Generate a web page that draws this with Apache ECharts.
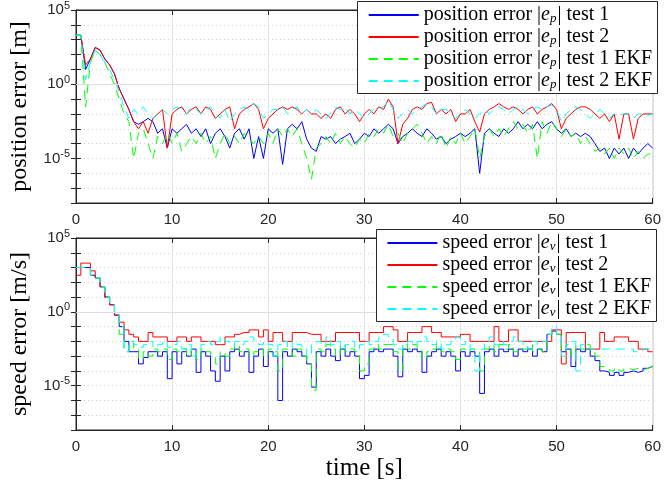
<!DOCTYPE html>
<html><head><meta charset="utf-8">
<script src="https://cdn.jsdelivr.net/npm/echarts@6/dist/echarts.min.js"></script>
<style>html,body{margin:0;padding:0;background:#fff}#c{width:664px;height:485px}</style>
</head><body><div id="c"></div>
<script>
// sample times [s]
const timeS = [0,0.5,1,1.5,2,2.5,3,3.5,4,4.5,5,5.5,6,6.5,7,7.5,8,8.5,9,9.5,
10,10.5,11,11.5,12,12.5,13,13.5,14,14.5,15,15.5,16,16.5,17,17.5,18,18.5,19,19.5,
20,20.5,21,21.5,22,22.5,23,23.5,24,24.5,25,25.5,26,26.5,27,27.5,28,28.5,29,29.5,
30,30.5,31,31.5,32,32.5,33,33.5,34,34.5,35,35.5,36,36.5,37,37.5,38,38.5,39,39.5,
40,40.5,41,41.5,42,42.5,43,43.5,44,44.5,45,45.5,46,46.5,47,47.5,48,48.5,49,49.5,
50,50.5,51,51.5,52,52.5,53,53.5,54,54.5,55,55.5,56,56.5,57,57.5,58,58.5,59,59.5,60];

// position error |e_p| [m]
const posTest1 = [2e3,2e3,1e1,5e1,3e2,2e2,5e1,2e1,5,5e-1,
1e-1,2e-2,3e-3,2e-3,3e-3,5e-3,3e-3,5e-4,1e-3,5e-5,
1e-3,5e-4,1e-3,2e-3,5e-4,1e-3,3e-4,1e-3,1e-4,5e-4,
1e-3,3e-4,5e-5,5e-4,1e-3,2e-4,1e-3,1e-5,3e-4,1e-5,
1e-3,5e-4,1e-3,4e-6,1e-3,2e-3,1e-3,3e-3,2e-4,5e-5,
3e-5,3e-4,2e-4,3e-4,1e-4,2e-4,3e-4,5e-4,1e-4,2e-4,
5e-4,3e-4,1e-3,5e-4,1e-3,2e-3,1e-3,1e-4,3e-4,5e-4,
1e-3,5e-4,3e-4,1e-3,5e-4,2e-4,3e-4,1e-4,2e-4,3e-4,
5e-4,3e-4,5e-4,1e-3,1e-6,5e-4,1e-3,5e-4,3e-4,1e-3,
5e-4,1e-3,3e-3,1e-3,2e-3,1e-3,3e-3,1e-3,2e-3,3e-3,
1e-3,5e-4,1e-3,3e-4,5e-4,3e-4,5e-4,3e-4,1e-4,3e-5,
5e-5,1e-5,5e-5,2e-5,5e-5,1e-5,5e-5,2e-5,5e-5,1e-4,5e-5];
const posTest2 = [2e3,2e3,2e1,5e1,3e2,2e2,5e1,2e1,5,5e-1,
1e-1,2e-2,3e-3,1e-3,3e-3,5e-4,5e-3,1e-2,2e-2,5e-5,
1e-2,2e-2,3e-2,1e-2,2e-2,3e-2,1e-2,3e-2,2e-2,5e-3,
1e-2,2e-2,3e-2,1e-3,1e-2,2e-2,3e-2,5e-2,2e-2,1e-3,
5e-3,1e-2,2e-2,3e-2,2e-2,3e-2,2e-2,1e-2,2e-2,1e-2,
1e-2,5e-3,1e-2,5e-3,2e-2,3e-2,1e-2,2e-2,1e-2,3e-3,
1e-2,2e-2,1e-2,3e-2,2e-2,1e-1,3e-2,1e-4,2e-3,5e-3,
2e-2,3e-2,2e-2,5e-2,6e-2,1e-2,2e-2,1e-2,2e-2,3e-3,
1e-2,1e-2,2e-2,3e-3,6e-4,1e-2,2e-2,3e-2,5e-2,3e-2,
2e-2,3e-2,2e-2,1e-2,2e-2,3e-2,1e-2,2e-2,3e-2,5e-2,
2e-2,1e-3,5e-3,1e-2,2e-2,3e-2,3e-2,2e-2,1e-2,5e-3,
1e-2,3e-3,1e-2,2e-4,1e-2,1e-2,2e-4,5e-3,1e-2,1e-2,1e-2];
const posTest1EKF = [2e3,2e3,3e-2,3e1,2e2,1e2,3e1,5,1,1e-1,
1e-2,3e-3,1e-5,5e-4,1e-3,1e-4,1e-5,3e-4,1e-4,5e-4,
1e-4,5e-4,3e-5,1e-4,3e-4,1e-4,5e-4,1e-4,3e-4,1e-5,
1e-4,5e-4,1e-4,3e-4,1e-4,5e-4,2e-4,1e-4,3e-4,1e-4,
5e-4,1e-4,1e-3,3e-4,1e-3,3e-4,1e-3,1e-4,1e-5,4e-7,
5e-5,1e-4,3e-4,1e-4,5e-4,1e-4,3e-4,1e-4,5e-5,2e-4,
1e-4,5e-4,3e-4,1e-3,5e-4,2e-3,3e-4,5e-4,1e-4,5e-4,
1e-3,2e-3,5e-4,1e-4,3e-4,1e-4,5e-4,5e-5,3e-4,1e-4,
5e-4,1e-4,3e-4,1e-3,1e-5,3e-4,1e-3,3e-4,1e-3,3e-4,
1e-3,3e-3,1e-3,2e-3,5e-4,2e-3,1e-5,3e-3,5e-4,3e-3,
1e-3,3e-4,1e-3,3e-4,5e-4,1e-4,3e-4,1e-4,3e-5,5e-5,
2e-5,5e-5,1e-5,5e-5,2e-5,5e-5,1e-5,3e-5,1e-5,2e-5,2e-5];
const posTest2EKF = [2e3,2e3,2,3e1,2e2,1e2,3e1,1e1,2,3e-1,
3e-2,5e-3,2e-2,1e-2,3e-2,1e-2,5e-3,1e-2,2e-2,1e-2,
2e-2,3e-2,2e-2,1e-2,3e-2,2e-2,1e-2,2e-2,3e-2,1e-2,
5e-3,2e-2,3e-3,1e-2,2e-2,3e-2,2e-2,5e-2,3e-2,5e-3,
1e-2,2e-2,2e-2,3e-2,1e-2,2e-2,3e-2,1e-2,2e-2,1e-2,
2e-2,1e-2,5e-3,1e-2,3e-2,2e-2,3e-2,1e-2,2e-2,1e-2,
5e-3,1e-2,2e-2,2e-2,3e-2,8e-2,2e-2,5e-3,1e-2,2e-2,
1e-2,2e-2,3e-2,5e-2,3e-2,1e-2,2e-2,2e-2,1e-2,5e-3,
1e-2,2e-2,1e-2,5e-3,1e-2,2e-2,1e-2,2e-2,3e-2,2e-2,
1e-2,2e-2,3e-2,2e-2,1e-2,2e-2,3e-2,2e-2,3e-2,4e-2,
2e-2,3e-3,1e-2,2e-2,3e-2,2e-2,1e-2,5e-3,1e-2,2e-2,
1e-2,5e-3,1e-2,8e-3,1e-2,1e-2,5e-3,1e-2,1e-2,8e-3,1e-2];

// speed error |e_v| [m/s]
const spdTest1 = [1e3,1e3,1e3,3e2,2e2,5e1,1e1,3,6e-1,1e-1,
1e-2,2e-3,2e-3,3e-4,8e-4,2e-3,2e-3,1e-3,2e-3,3e-5,
2e-3,3e-4,2e-3,1e-3,3e-3,8e-5,2e-3,1e-3,1e-4,2e-5,
1e-3,1e-4,2e-3,3e-3,1e-3,2e-3,8e-5,1e-3,3e-3,2e-4,
2e-3,1e-3,1e-6,2e-3,1e-3,3e-3,2e-3,1e-3,3e-4,8e-6,
2e-3,1e-3,3e-3,1e-3,5e-4,3e-3,1e-3,2e-3,1e-3,3e-5,
5e-5,2e-3,3e-3,2e-3,3e-3,3e-3,1e-3,4e-5,3e-3,2e-3,
3e-3,2e-3,8e-5,1e-3,2e-3,3e-3,1e-3,2e-3,1e-3,1e-4,
2e-3,1e-3,2e-3,1e-3,3e-6,2e-3,3e-3,1e-3,3e-3,2e-3,
3e-3,1e-3,3e-3,2e-3,3e-3,1e-3,3e-3,2e-3,3e-2,5e-2,
3e-2,2e-3,3e-3,2e-4,3e-3,2e-3,3e-3,1e-3,5e-4,1e-4,
8e-5,5e-5,8e-5,5e-5,8e-5,1e-4,8e-5,1e-4,1.5e-4,2e-4,2e-4];
const spdTest2 = [3e2,2e3,2e3,6e2,2e2,5e1,1e1,3,6e-1,2e-1,
6e-2,3e-2,2e-2,1e-2,1e-2,4e-2,2e-2,2e-2,2e-2,1e-2,
1e-2,2e-2,2e-2,1e-2,2e-2,2e-2,1e-2,1e-2,1e-2,6e-3,
6e-3,2e-2,2e-2,3e-2,4e-2,4e-2,6e-2,6e-2,2e-2,6e-2,
1e-2,4e-2,4e-2,1e-2,1e-2,4e-2,4e-2,4e-2,3e-2,3e-2,
3e-2,1e-2,1e-2,1e-2,4e-2,4e-2,4e-2,4e-2,4e-2,1e-2,
1e-2,4e-2,4e-2,4e-2,1e-1,1e-1,6e-2,1e-2,1e-2,4e-2,
4e-2,4e-2,1e-1,1e-1,4e-2,4e-2,2e-2,2e-2,2e-2,2e-2,
3e-2,3e-2,1e-2,1e-2,1e-2,1e-2,1e-2,1e-1,1e-2,1e-2,
6e-2,6e-2,1e-2,1e-2,1e-2,1e-2,1e-2,1e-2,1e-2,6e-2,
6e-2,3e-4,4e-2,4e-2,4e-2,4e-2,3e-3,3e-3,3e-3,4e-2,
1e-2,1e-2,2e-2,2e-2,2e-2,1e-2,1e-2,3e-3,3e-3,2e-3,2e-3];
const spdTest1EKF = [1e3,1e3,1e3,3e2,2e2,5e1,1e1,3,6e-1,3e-2,
2e-3,1e-2,3e-3,6e-4,2e-3,1e-3,3e-3,2e-3,3e-3,6e-4,
3e-3,2e-3,3e-3,1e-3,3e-3,6e-4,3e-3,2e-3,1e-3,3e-4,
2e-3,1e-3,3e-3,6e-3,2e-3,3e-3,1e-3,2e-3,3e-3,1e-3,
3e-3,2e-3,1e-4,3e-3,2e-3,1e-3,3e-3,1e-3,3e-4,5e-6,
3e-3,2e-3,6e-3,3e-3,1e-3,6e-3,2e-3,3e-3,2e-3,1e-4,
3e-4,3e-3,6e-3,3e-3,6e-3,6e-3,2e-3,1e-4,6e-3,3e-3,
6e-3,3e-3,6e-4,2e-3,3e-3,6e-3,2e-3,3e-3,2e-3,6e-4,
3e-3,2e-3,3e-3,2e-3,1e-4,3e-3,6e-3,2e-3,6e-3,3e-3,
6e-3,2e-3,3e-3,3e-3,6e-3,2e-3,3e-3,2e-3,3e-2,6e-2,
3e-2,2e-3,6e-3,1e-3,6e-3,3e-3,6e-3,2e-3,1e-3,2e-4,
1.5e-4,1e-4,1.5e-4,1e-4,1.5e-4,1.2e-4,1.5e-4,1.2e-4,1.5e-4,2e-4,2e-4];
const spdTest2EKF = [1e3,1e3,1e3,3e2,2e2,5e1,1e1,3,6e-1,1e-1,
2e-3,1e-2,6e-3,4e-3,6e-3,1e-2,4e-3,6e-3,1e-2,4e-3,
6e-3,1e-2,3e-3,6e-3,1e-3,3e-3,6e-3,1e-2,6e-3,1e-2,
2e-2,1e-2,6e-3,1e-2,6e-3,1e-2,2e-2,1e-2,6e-3,1e-2,
6e-3,1e-3,6e-3,1e-2,3e-3,1e-2,6e-3,3e-3,1e-3,6e-3,
1e-2,6e-3,2e-2,6e-3,1e-2,3e-3,6e-3,1e-2,3e-3,6e-3,
1e-2,6e-3,1e-2,2e-2,3e-2,2e-2,6e-3,3e-3,6e-3,1e-2,
6e-3,1e-2,2e-2,1e-2,6e-3,1e-2,3e-3,6e-3,1e-2,2e-2,
6e-3,1e-2,3e-3,1e-4,3e-3,1e-2,2e-2,6e-3,1e-2,6e-3,
1e-2,2e-2,1e-2,6e-3,3e-3,1e-2,6e-3,1e-2,3e-2,1e-1,
3e-2,1e-3,6e-3,1e-2,1e-4,6e-3,3e-3,3e-3,3e-3,3e-3,
3e-3,3e-3,3e-3,3e-3,3e-3,3e-3,2e-3,2e-3,3e-3,3e-3,3e-3];

const xTicks = [0,10,20,30,40,50,60];
const yMajorExponents = [5,0,-5];

const names = {
  p1:'{n|position error |}{i|e}{s|p}{n|| test 1}',
  p2:'{n|position error |}{i|e}{s|p}{n|| test 2}',
  p3:'{n|position error |}{i|e}{s|p}{n|| test 1 EKF}',
  p4:'{n|position error |}{i|e}{s|p}{n|| test 2 EKF}',
  v1:'{n|speed error |}{i|e}{s|v}{n|| test 1}',
  v2:'{n|speed error |}{i|e}{s|v}{n|| test 2}',
  v3:'{n|speed error |}{i|e}{s|v}{n|| test 1 EKF}',
  v4:'{n|speed error |}{i|e}{s|v}{n|| test 2 EKF}'
};
const SERIF = "'Liberation Serif','DejaVu Serif',serif";
const SANS = "'Liberation Sans',Arial,sans-serif";
const AX = '#262626';

const richLegend = {
  n:{fontFamily:SERIF,fontSize:20,color:'#000',lineHeight:20},
  i:{fontFamily:SERIF,fontSize:20,fontStyle:'italic',color:'#000',lineHeight:20},
  s:{fontFamily:SERIF,fontSize:13,fontStyle:'italic',color:'#000',lineHeight:20,padding:[7,1,0,0]}
};

function pairs(arr){ return timeS.map((t,i)=>[t,arr[i]]); }

function xAxisCfg(gi, showName){
  return {type:'value', gridIndex:gi, min:0, max:60, interval:10,
    axisLine:{show:true,onZero:false,lineStyle:{color:AX,width:1}},
    axisTick:{show:true,inside:true,length:5,lineStyle:{color:AX}},
    axisLabel:{fontFamily:SANS,fontSize:15,color:AX,margin:9},
    splitLine:{show:true,lineStyle:{color:'#e3e3e3',width:1}},
    name: showName ? 'time [s]' : '', nameLocation:'middle', nameGap:26,
    nameTextStyle:{fontFamily:SERIF,fontSize:25,color:'#000'}};
}
function xTopCfg(gi){
  return {type:'value', gridIndex:gi, position:'top', min:0, max:60, interval:10,
    axisLine:{show:true,onZero:false,lineStyle:{color:AX,width:1}},
    axisTick:{show:true,inside:true,length:5,lineStyle:{color:AX}},
    axisLabel:{show:false}, splitLine:{show:false}};
}
function yAxisCfg(gi, name){
  return {type:'log', logBase:10, gridIndex:gi, min:1e-8, max:1e5, interval:1,
    axisLine:{show:true,lineStyle:{color:AX,width:1}},
    axisTick:{show:true,inside:true,length:5,lineStyle:{color:AX}},
    axisLabel:{margin:6, formatter:function(v){
        const e = Math.round(Math.log10(v));
        if (yMajorExponents.indexOf(e) < 0) return '';
        return '{b|10}{e|' + e + '}';
      },
      rich:{b:{fontFamily:SANS,fontSize:15,color:AX},
            e:{fontFamily:SANS,fontSize:11,color:AX,padding:[0,0,9,0]}}},
    splitLine:{show:true,lineStyle:{color:'#cfcfcf',type:[1,3],width:1}},
    name:name, nameLocation:'middle', nameGap:44, nameRotate:90,
    nameTextStyle:{fontFamily:SERIF,fontSize:24,color:'#000'}};
}
function yRightCfg(gi){
  return {type:'log', logBase:10, gridIndex:gi, position:'right', min:1e-8, max:1e5, interval:1,
    axisLine:{show:true,lineStyle:{color:AX,width:1}},
    axisTick:{show:true,inside:true,length:5,lineStyle:{color:AX}},
    axisLabel:{show:false}, splitLine:{show:false}};
}
function major(gi){
  return {type:'line', xAxisIndex:gi, yAxisIndex:gi, data:[], z:1, silent:true,
    markLine:{silent:true, symbol:'none', label:{show:false}, animation:false,
      lineStyle:{color:'#dedede',type:'solid',width:1},
      data:yMajorExponents.filter(e=>e>-8&&e<5).map(e=>({yAxis:Math.pow(10,e)}))}};
}
function ser(name, gi, arr, color, dashed, step){
  return {name:name, type:'line', xAxisIndex:gi, yAxisIndex:gi, data:pairs(arr),
    symbol:'none', step: step ? 'end' : false, animation:false,
    lineStyle:{color:color,width:1,type:dashed?[9,6]:'solid'}, itemStyle:{color:color}};
}
function legendCfg(keys, top, right){
  return {data:keys, orient:'vertical', top:top, right:right, itemWidth:50, itemHeight:12,
    itemGap:2, padding:0, z:10, formatter:n=>names[n],
    itemStyle:{opacity:0},
    textStyle:{rich:richLegend, lineHeight:20}};
}

const chart = echarts.init(document.getElementById('c'), null, {renderer:'canvas'});
chart.setOption({
  backgroundColor:'#fff', animation:false,
  graphic:[
    {type:'rect', z:8, silent:true, shape:{x:357.5,y:1.5,width:300,height:92},
     style:{fill:'#fff', stroke:AX, lineWidth:1}},
    {type:'rect', z:8, silent:true, shape:{x:376.5,y:229.5,width:280,height:92},
     style:{fill:'#fff', stroke:AX, lineWidth:1}}
  ],
  grid:[
    {left:75, right:9, top:10, height:193, show:true, borderColor:AX, borderWidth:1, backgroundColor:'transparent'},
    {left:75, right:9, top:238, height:192, show:true, borderColor:AX, borderWidth:1, backgroundColor:'transparent'}
  ],
  xAxis:[xAxisCfg(0,false), xAxisCfg(1,true), xTopCfg(0), xTopCfg(1)],
  yAxis:[yAxisCfg(0,'position error [m]'), yAxisCfg(1,'speed error [m/s]'), yRightCfg(0), yRightCfg(1)],
  legend:[legendCfg(['p1','p2','p3','p4'],5,12), legendCfg(['v1','v2','v3','v4'],233,13)],
  series:[
    major(0), major(1),
    ser('p1',0,posTest1,'#0000ff',false,false),
    ser('p2',0,posTest2,'#ff0000',false,false),
    ser('p3',0,posTest1EKF,'#00ff00',true,false),
    ser('p4',0,posTest2EKF,'#00ffff',true,false),
    ser('v1',1,spdTest1,'#0000ff',false,true),
    ser('v2',1,spdTest2,'#ff0000',false,true),
    ser('v3',1,spdTest1EKF,'#00ff00',true,true),
    ser('v4',1,spdTest2EKF,'#00ffff',true,true)
  ]
});
</script></body></html>
